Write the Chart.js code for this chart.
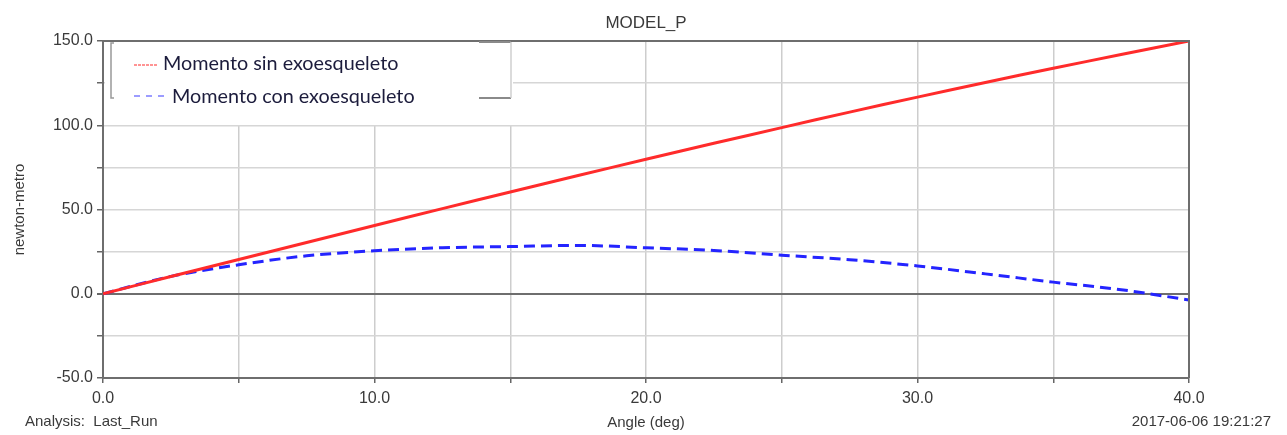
<!DOCTYPE html>
<html>
<head>
<meta charset="utf-8">
<script src="https://cdn.jsdelivr.net/npm/chart.js@4.4.0/dist/chart.umd.min.js"></script>
<style>
    html, body { margin: 0; padding: 0; background: #fff; }
    #wrap { width: 1287px; height: 435px; position: relative; }
</style>
</head>
<body>
<div id="wrap"><canvas id="grafico"></canvas></div>
<script>
// datos
const angles = [0, 2.5, 5, 7.5, 10, 12.5, 15, 17.5, 20, 22.5, 25, 27.5, 30, 32.5, 35, 37.5, 40];
const momentoSin = [0, 10.2, 20.3, 30.4, 40.5, 50.5, 60.4, 70.2, 79.8, 89.3, 98.6, 107.8, 116.7, 125.4, 133.8, 142.0, 150.0];
const momentoCon = [0, 10.3, 17.2, 22.5, 25.5, 27.3, 28.0, 28.7, 27.3, 25.7, 22.9, 20.2, 16.5, 11.8, 6.9, 2.4, -3.7];
const seriesNames = ['Momento sin exoesqueleto', 'Momento con exoesqueleto'];
const yLabels = [-50, 0, 50, 100, 150];
const xLabels = [0, 10, 20, 30, 40];

const tickFont = { family: 'Liberation Sans', size: 16 };

const extras = {
    id: 'extras',
    afterDraw(chart) {
        const ctx = chart.ctx;
        const a = chart.chartArea;
        ctx.save();

        // marco superior y derecho
        ctx.strokeStyle = '#6e6e6e';
        ctx.lineWidth = 2;
        ctx.beginPath();
        ctx.moveTo(a.left, a.top);
        ctx.lineTo(a.right, a.top);
        ctx.lineTo(a.right, a.bottom);
        ctx.stroke();

        // titulo
        ctx.fillStyle = '#3a3a3a';
        ctx.font = '17px Liberation Sans';
        ctx.textAlign = 'center';
        ctx.textBaseline = 'middle';
        ctx.fillText('MODEL_P', (a.left + a.right) / 2, 23);

        // textos de pie
        ctx.font = '15px Liberation Sans';
        ctx.textAlign = 'left';
        ctx.fillText('Analysis:  Last_Run', 25, 422);
        ctx.textAlign = 'right';
        ctx.fillText('2017-06-06 19:21:27', 1271, 422);

        // leyenda
        ctx.fillStyle = '#fff';
        ctx.fillRect(a.left + 2, a.top + 1, 408, 83);
        ctx.lineWidth = 1.5;
        ctx.strokeStyle = '#999';
        ctx.beginPath();
        ctx.moveTo(114, 43); ctx.lineTo(111, 43); ctx.lineTo(111, 98); ctx.lineTo(114, 98);
        ctx.stroke();
        ctx.strokeStyle = '#8a8a8a';
        ctx.lineWidth = 2;
        ctx.beginPath();
        ctx.moveTo(479, 42); ctx.lineTo(511, 42);
        ctx.moveTo(479, 98); ctx.lineTo(511, 98);
        ctx.stroke();
        ctx.strokeStyle = '#cfcfcf';
        ctx.lineWidth = 1.5;
        ctx.beginPath();
        ctx.moveTo(511, 42); ctx.lineTo(511, 98);
        ctx.stroke();

        ctx.lineWidth = 1.2;
        ctx.strokeStyle = '#ff2a2a';
        ctx.setLineDash([3, 1]);
        ctx.beginPath();
        ctx.moveTo(134, 65); ctx.lineTo(157, 65);
        ctx.stroke();
        ctx.strokeStyle = '#3a3aff';
        ctx.setLineDash([6, 6]);
        ctx.beginPath();
        ctx.moveTo(134, 96); ctx.lineTo(167, 96);
        ctx.stroke();
        ctx.setLineDash([]);

        ctx.fillStyle = '#1c1c3c';
        ctx.font = '19.8px Lato';
        ctx.textAlign = 'left';
        ctx.fillText(seriesNames[0], 163, 64);
        ctx.fillText(seriesNames[1], 172, 97);
        ctx.restore();
    }
};

new Chart(document.getElementById('grafico'), {
    type: 'line',
    data: {
        datasets: [{
            label: seriesNames[0],
            data: angles.map((x, i) => ({ x: x, y: momentoSin[i] })),
            borderColor: '#ff2b2b',
            borderWidth: 3,
            pointRadius: 0,
            tension: 0.3
        }, {
            label: seriesNames[1],
            data: angles.map((x, i) => ({ x: x, y: momentoCon[i] })),
            borderColor: '#2424ff',
            borderWidth: 3,
            borderDash: [11, 6],
            pointRadius: 0,
            cubicInterpolationMode: 'monotone'
        }]
    },
    options: {
        responsive: true,
        maintainAspectRatio: false,
        animation: false,
        layout: { padding: { left: 0, top: 41, right: 98, bottom: 0 } },
        plugins: { legend: { display: false }, tooltip: { enabled: false } },
        scales: {
            x: {
                type: 'linear',
                min: 0, max: 40,
                ticks: {
                    stepSize: 5,
                    font: tickFont, color: '#3a3a3a', padding: 6, maxRotation: 0,
                    callback: v => xLabels.includes(v) ? v.toFixed(1) : ''
                },
                grid: { color: '#cdcdcd', lineWidth: 1.5, tickLength: 5, tickColor: '#666' },
                border: { color: '#6e6e6e', width: 2 },
                title: { display: true, text: 'Angle (deg)', font: { family: 'Liberation Sans', size: 15 }, color: '#3a3a3a', padding: { top: 0, bottom: 3 } },
                afterFit: s => { s.height = 57; }
            },
            y: {
                min: -50, max: 150,
                ticks: {
                    stepSize: 25,
                    font: tickFont, color: '#3a3a3a', padding: 4,
                    callback: v => yLabels.includes(v) ? v.toFixed(1) : ''
                },
                grid: {
                    color: c => c.tick && c.tick.value === 0 ? '#6e6e6e' : '#d6d6d6',
                    lineWidth: c => c.tick && c.tick.value === 0 ? 2 : 1.5,
                    tickLength: 6, tickColor: '#666'
                },
                border: { color: '#6e6e6e', width: 2 },
                title: { display: true, text: 'newton-metro', font: { family: 'Liberation Sans', size: 15 }, color: '#3a3a3a', padding: { top: 11, bottom: 0 } },
                afterFit: s => { s.width = 103; }
            }
        }
    },
    plugins: [extras]
});
</script>
</body>
</html>
